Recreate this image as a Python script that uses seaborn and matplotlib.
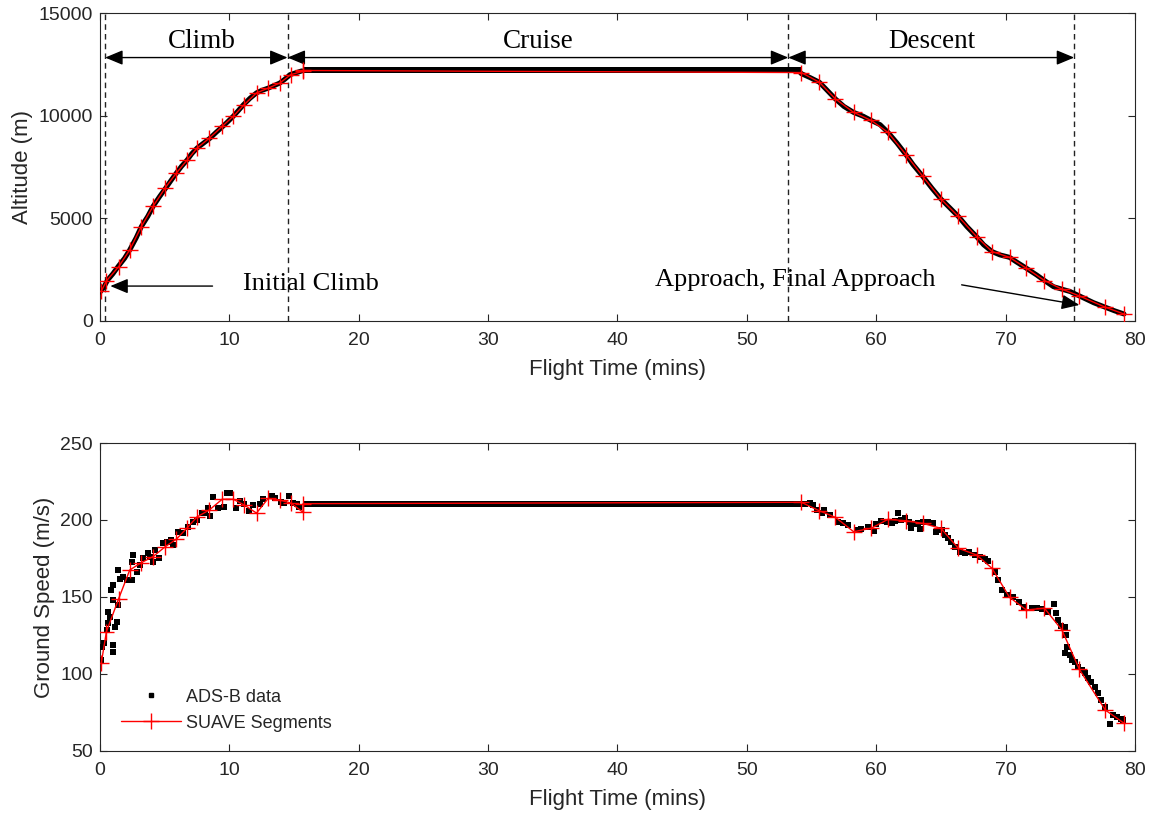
import numpy as np
import matplotlib
matplotlib.use('Agg')
import matplotlib.pyplot as plt
import seaborn as sns
from matplotlib.lines import Line2D

# ---------------- data ----------------
# SUAVE segment end points (shared time base for both panels)
seg_time = [0.1, 0.5, 1.45, 2.3, 3.2, 4.1, 5.05, 5.9, 6.75, 7.5, 8.45, 9.45, 10.3,
            11.15, 12.1, 13.0, 13.9, 14.75, 15.7, 15.7, 54.2, 55.6, 56.85, 58.25,
            59.6, 60.9, 62.3, 63.6, 65.0, 66.35, 67.75, 68.95, 70.3, 71.6, 73.0,
            74.35, 75.7, 77.7, 79.15]
seg_alt = [1450, 1950, 2650, 3460, 4600, 5580, 6490, 7200, 7850, 8420, 8900, 9480,
           9970, 10540, 11110, 11340, 11590, 12000, 12160, 12200, 12100, 11630,
           10810, 10160, 9770, 9190, 8100, 7040, 5940, 5090, 4110, 3380, 3100,
           2570, 1970, 1550, 1220, 670, 340]
seg_speed = [107, 127.5, 149, 167.5, 172.3, 176.2, 182.7, 187.5, 195, 202, 206.5,
             213.5, 213.5, 209.7, 204.5, 214, 213, 211, 205, 210.6, 211.5, 206,
             201.7, 192.4, 194.6, 200.4, 199.5, 197.8, 194.6, 181.6, 177.3, 168.6,
             149.8, 141.6, 142.7, 128.6, 103, 76.6, 68]

# ADS-B altitude (climb / descent), read along the track
adsb_climb_t = [0.0, 0.3, 0.6, 1.0, 1.4, 1.9, 2.3, 2.8, 3.2, 3.7, 4.1, 4.6, 5.1, 5.5,
                5.9, 6.3, 6.75, 7.1, 7.5, 8.0, 8.5, 9.0, 9.5, 9.9, 10.3, 10.7, 11.1,
                11.6, 12.1, 12.5, 13.0, 13.4, 13.9, 14.3, 14.7, 15.2, 15.6]
adsb_climb_alt = [1400, 1650, 2000, 2300, 2650, 3050, 3460, 4050, 4600, 5100, 5580,
                  6050, 6490, 6850, 7200, 7530, 7850, 8150, 8420, 8660, 8900, 9200,
                  9480, 9720, 9970, 10250, 10540, 10850, 11110, 11230, 11340, 11450,
                  11590, 11780, 12000, 12100, 12180]
adsb_desc_t = [54.0, 54.2, 54.9, 55.6, 56.15, 56.85, 57.5, 58.25, 59.0, 59.6, 60.3,
               60.9, 61.6, 62.3, 62.85, 63.6, 64.3, 65.0, 65.7, 66.35, 67.0, 67.75,
               68.3, 68.95, 69.55, 70.3, 70.8, 71.6, 72.4, 73.0, 73.7, 74.35, 75.0,
               75.7, 76.8, 77.7, 78.4, 79.15]
adsb_desc_alt = [12200, 12050, 11850, 11630, 11270, 10810, 10450, 10160, 9970, 9770,
                 9560, 9190, 8670, 8100, 7610, 7040, 6470, 5940, 5500, 5090, 4600,
                 4110, 3710, 3380, 3220, 3100, 2890, 2570, 2240, 1970, 1670, 1550,
                 1430, 1220, 890, 670, 500, 340]

# ADS-B cruise samples
cruise_t = np.arange(15.9, 54.1, 0.3)
cruise_alt = 12200
cruise_speed = 210.6

# ADS-B ground speed (climb / descent)
spd_climb_t = [0.08, 0.18, 0.33, 0.52, 0.64, 0.64, 0.77, 0.85, 1.03, 1.03, 1.03, 1.03,
               1.16, 1.29, 1.41, 1.41, 1.55, 1.8, 2.06, 2.45, 2.45, 2.58, 2.83, 3.1,
               3.35, 3.73, 3.86, 4.1, 4.25, 4.6, 4.9, 5.15, 5.5, 5.65, 6.05, 6.44,
               6.83, 7.2, 7.47, 7.86, 8.1, 8.37, 8.5, 8.7, 9.14, 9.6, 9.8, 10.05,
               10.5, 10.8, 11.1, 11.5, 11.85, 12.4, 12.6, 13.27, 13.5, 14.0, 14.2,
               14.6, 14.94, 15.2, 15.4]
spd_climb_v = [109, 117.7, 120, 128.6, 133, 140.5, 137, 154.5, 118.8, 114.5, 148,
               157.8, 130.7, 134, 144.8, 167.5, 162, 162.7, 161, 161, 173, 177, 166.4,
               170.8, 175, 178.3, 176, 173, 180.5, 175, 184.8, 186, 187, 183.8, 192.4,
               191.3, 195.6, 199, 200, 204.3, 204.3, 207.5, 202.6, 215, 207.5, 208.6,
               217.7, 217.7, 207.5, 212.5, 210.4, 206, 209.7, 210.4, 213.4, 215.6, 214,
               211.9, 210.8, 215.6, 210.8, 210.4, 208.6]
spd_desc_t = [54.5, 54.9, 55.1, 55.4, 55.8, 56.0, 56.4, 57.05, 57.4, 57.8, 58.5,
              58.85, 59.4, 59.8, 60.0, 60.4, 60.8, 61.2, 61.45, 61.7, 61.95, 62.2,
              62.5, 62.7, 63.0, 63.2, 63.4, 63.6, 64.0, 64.4, 64.65, 65.05, 65.3,
              65.55, 65.8, 66.05, 66.45, 66.85, 67.2, 67.6, 68.0, 68.4, 68.65, 69.2,
              69.4, 69.7, 70.1, 70.6, 71.05, 71.4, 72.0, 72.4, 72.8, 73.3, 73.7, 73.9,
              74.05, 74.3, 74.6, 74.7, 74.6, 74.75, 74.96, 75.1, 75.35, 75.6, 75.9,
              76.1, 76.4, 76.6, 76.9, 77.15, 77.4, 77.7, 78.05, 78.3, 78.6, 78.9, 79.05]
spd_desc_v = [210.4, 211.2, 209.7, 206.5, 204.3, 206.5, 203.2, 198.9, 197.8, 196.8,
              193.5, 194, 195.6, 193, 197.4, 199.5, 198.9, 197.8, 199.5, 204.3, 200,
              201, 198.9, 194.6, 197.4, 198.3, 193.9, 198.9, 198.9, 197.8, 192.4, 193.5,
              190.3, 188.1, 185.9, 182.7, 179.4, 178.8, 179.4, 177.3, 175.8, 174.5,
              173.6, 166.4, 161, 154.5, 151.3, 149.8, 146.9, 143.7, 142.7, 142.7, 142,
              140.5, 145.5, 139.4, 135, 131.2, 130.7, 125.3, 113.8, 117.7, 112.3, 109,
              108, 104.7, 102.6, 100.5, 97.2, 95, 91.8, 87.5, 83.1, 78.8, 67.5, 73.4,
              71.9, 70.6, 70.1]

phase_bounds = [0.4, 14.5, 53.2, 75.3]
phase_names = ["Climb", "Cruise", "Descent"]

# ---------------- style ----------------
sns.set_theme(style='ticks')
plt.rcParams['font.family'] = ['Liberation Sans', 'DejaVu Sans']
GRAY = '#262626'
SERIF = ['Liberation Serif', 'DejaVu Serif']

fig = plt.figure(figsize=(11.53, 8.13), dpi=100)
ax1 = fig.add_axes([0.0867, 0.6052, 0.8977, 0.3788])
ax2 = fig.add_axes([0.0867, 0.0763, 0.8977, 0.3788])

red_kw = dict(color='red', lw=1.0, marker='+', markersize=11, markeredgewidth=1.0,
              markeredgecolor='red', estimator=None, sort=False, zorder=6)

# ---------------- top panel ----------------
sns.lineplot(x=adsb_climb_t, y=adsb_climb_alt, ax=ax1, color='black', lw=3.6,
             estimator=None, sort=False, zorder=3)
sns.lineplot(x=adsb_desc_t, y=adsb_desc_alt, ax=ax1, color='black', lw=3.6,
             estimator=None, sort=False, zorder=3)
sns.scatterplot(x=cruise_t, y=np.full(len(cruise_t), cruise_alt), ax=ax1, marker='s',
                s=14, color='black', linewidth=0, zorder=3)
sns.lineplot(x=seg_time, y=seg_alt, ax=ax1, **red_kw)

ax1.set_xlim(0, 80)
ax1.set_ylim(0, 15000)
ax1.set_xticks(range(0, 81, 10))
ax1.set_yticks([0, 5000, 10000, 15000])
ax1.set_xlabel('Flight Time (mins)', fontsize=16, color=GRAY, labelpad=7)
ax1.set_ylabel('Altitude (m)', fontsize=16, color=GRAY, labelpad=4)

for b in phase_bounds:
    ax1.axvline(b, color='#222222', lw=1.0, linestyle=(0, (4, 3)), zorder=2)

arrow_y = 12830
for i, name in enumerate(phase_names):
    a, b = phase_bounds[i], phase_bounds[i + 1]
    ax1.annotate('', xy=(b, arrow_y), xytext=(a, arrow_y),
                 arrowprops=dict(arrowstyle='<|-|>,head_length=0.6,head_width=0.25',
                                 color='black', lw=1.0, mutation_scale=18,
                                 shrinkA=0, shrinkB=0))
label_x = [7.9, 33.85, 64.3]
for name, lx in zip(phase_names, label_x):
    ax1.text(lx, 13600, name, ha='center', va='center', fontsize=19.5,
             family=SERIF, color='black')

ax1.annotate('', xy=(0.8, 1700), xytext=(8.7, 1700),
             arrowprops=dict(arrowstyle='-|>,head_length=0.6,head_width=0.25',
                             color='black', lw=1.0, mutation_scale=18,
                             shrinkA=0, shrinkB=0))
ax1.text(11.05, 1800, 'Initial Climb', ha='left', va='center', fontsize=19,
         family=SERIF, color='black')
ax1.annotate('', xy=(75.7, 780), xytext=(66.6, 1760),
             arrowprops=dict(arrowstyle='-|>,head_length=0.6,head_width=0.25',
                             color='black', lw=1.0, mutation_scale=18,
                             shrinkA=0, shrinkB=0))
ax1.text(42.9, 2000, 'Approach, Final Approach', ha='left', va='center', fontsize=19,
         family=SERIF, color='black')

# ---------------- bottom panel ----------------
sns.scatterplot(x=spd_climb_t, y=spd_climb_v, ax=ax2, marker='s', s=14,
                color='black', linewidth=0, zorder=3)
sns.scatterplot(x=spd_desc_t, y=spd_desc_v, ax=ax2, marker='s', s=14,
                color='black', linewidth=0, zorder=3)
sns.scatterplot(x=cruise_t, y=np.full(len(cruise_t), cruise_speed), ax=ax2,
                marker='s', s=14, color='black', linewidth=0, zorder=3)
sns.lineplot(x=seg_time, y=seg_speed, ax=ax2, **red_kw)

ax2.set_xlim(0, 80)
ax2.set_ylim(50, 250)
ax2.set_xticks(range(0, 81, 10))
ax2.set_yticks(range(50, 251, 50))
ax2.set_xlabel('Flight Time (mins)', fontsize=16, color=GRAY, labelpad=7)
ax2.set_ylabel('Ground Speed (m/s)', fontsize=16, color=GRAY, labelpad=4)

handles = [Line2D([], [], linestyle='none', marker='s', markersize=3.5,
                  color='black'),
           Line2D([], [], color='red', lw=1.0, marker='+', markersize=11,
                  markeredgewidth=1.0)]
ax2.legend(handles, ['ADS-B data', 'SUAVE Segments'], loc='lower left',
           bbox_to_anchor=(0.005, 0.01), frameon=False, fontsize=13,
           handlelength=3.3, handletextpad=0.3, labelspacing=0.5)

for ax in (ax1, ax2):
    ax.tick_params(top=True, right=True, direction='in', length=5, width=0.8,
                   colors=GRAY, labelsize=14, labelcolor=GRAY)
    ax.tick_params(axis='x', pad=8)
    ax.tick_params(axis='y', pad=5)
    for s in ax.spines.values():
        s.set_visible(True)
        s.set_color(GRAY)
        s.set_linewidth(0.8)

fig.savefig('out.png', dpi=100)
